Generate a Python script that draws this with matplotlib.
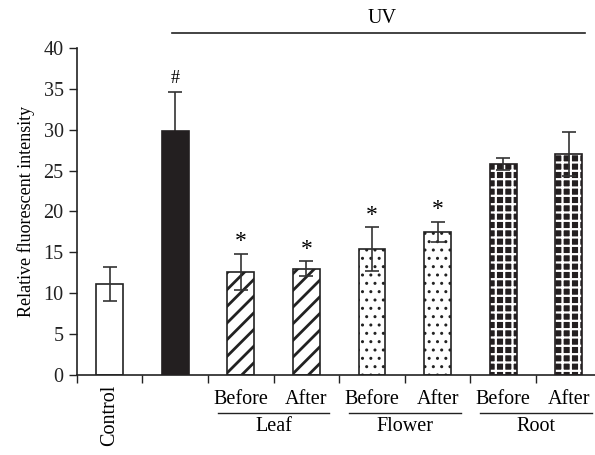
import numpy as np
import matplotlib
matplotlib.use('Agg')
import matplotlib.pyplot as plt

plt.rcParams['font.family'] = ['Liberation Serif', 'DejaVu Serif']

values = [11.1, 29.8, 12.6, 13.0, 15.4, 17.5, 25.8, 27.0]
errors = [2.05, 4.85, 2.2, 0.9, 2.65, 1.25, 0.7, 2.7]
marks = ['', '#', '*', '*', '*', '*', '', '']
sub_labels = ['Before', 'After'] * 3
groups = ['Leaf', 'Flower', 'Root']
yticks = [0, 5, 10, 15, 20, 25, 30, 35, 40]

x = np.arange(len(values))
w = 0.41

fig = plt.figure(figsize=(5.95, 4.55), dpi=100)
ax = fig.add_axes([0.129, 0.176, 0.871, 0.7187])

# plain bars
ax.bar(x[0], values[0], w, color='white', edgecolor='#222222', linewidth=1.2, zorder=2)
ax.bar(x[1], values[1], w, color='#231f20', edgecolor='#231f20', linewidth=1.2, zorder=5)
# leaf: diagonal lines
plt.rcParams['hatch.linewidth'] = 2.0
ax.bar(x[2:4], values[2:4], w, color='white', edgecolor='#222222', hatch='//', linewidth=1.2, zorder=2)
# flower: dots
plt.rcParams['hatch.linewidth'] = 1.0
ax.bar(x[4:6], values[4:6], w, color='white', edgecolor='#222222', hatch='..', linewidth=1.2, zorder=2)
# root: black with white crosses
plt.rcParams['hatch.linewidth'] = 1.6
ax.bar(x[6:8], values[6:8], w, color='#231f20', edgecolor='white', hatch='++', linewidth=0, zorder=2)
ax.bar(x[6:8], values[6:8], w, color='none', edgecolor='#231f20', linewidth=1.2, zorder=3)

ax.errorbar(x, values, yerr=errors, fmt='none', ecolor='#333333', elinewidth=1.2,
            capsize=5, capthick=1.2, zorder=4)
for xi, v, e, m in zip(x, values, errors, marks):
    if m == '*':
        ax.text(xi, v + e + 0.2, m, ha='center', va='bottom', fontsize=17)
    elif m:
        ax.text(xi, v + e + 0.6, m, ha='center', va='bottom', fontsize=13)

ax.set_xlim(-0.5, 7.4)
ax.set_ylim(0, 40)
ax.set_yticks(yticks)
ax.tick_params(axis='y', direction='out', length=6, width=1, labelsize=14.5, colors='#222222')
ax.set_xticks(np.arange(-0.5, 7, 1))
ax.set_xticklabels([])
ax.tick_params(axis='x', direction='out', length=6, width=1, colors='#222222')
for s in ['top', 'right']:
    ax.spines[s].set_visible(False)
for s in ['left', 'bottom']:
    ax.spines[s].set_linewidth(1.2)
    ax.spines[s].set_color('#222222')
ax.set_ylabel('Relative fluorescent intensity', fontsize=13, labelpad=6)

tr = ax.get_xaxis_transform()
ax.text(0, -0.03, 'Control', rotation=90, ha='center', va='top', fontsize=14.5, transform=tr)
for i, lab in enumerate(sub_labels):
    ax.text(x[i + 2], -0.045, lab, ha='center', va='top', fontsize=14.5, transform=tr)
for g, name in enumerate(groups):
    a, b = x[2 + 2 * g], x[3 + 2 * g]
    ax.plot([a - 0.35, b + 0.35], [-0.115, -0.115], color='#222222', lw=1, transform=tr, clip_on=False)
    ax.text((a + b) / 2, -0.13, name, ha='center', va='top', fontsize=14.5, transform=tr)

ax.plot([1 - 0.05, 7.25], [1.045, 1.045], color='#222222', lw=1.2, transform=tr, clip_on=False)
ax.text(4.15, 1.062, 'UV', ha='center', va='bottom', fontsize=14.5, transform=tr)

fig.savefig('out.png', dpi=100)
